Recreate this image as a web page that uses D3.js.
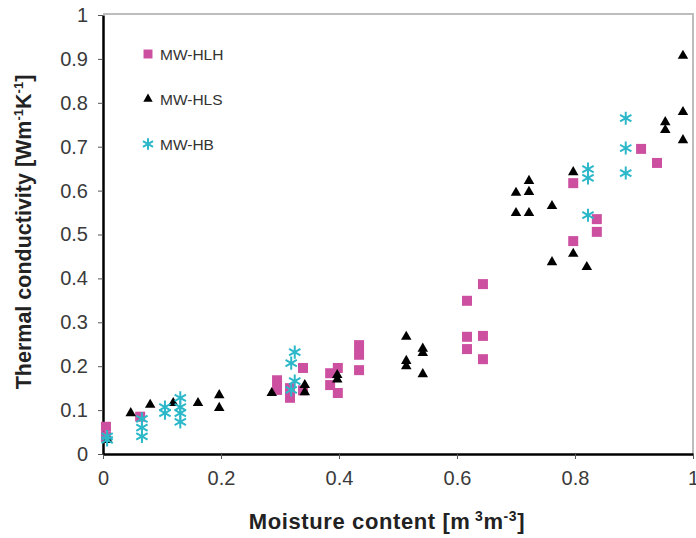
<!DOCTYPE html>
<html>
<head>
<meta charset="utf-8">
<script src="https://cdn.jsdelivr.net/npm/d3@7"></script>
<style>
    body { margin: 0; background: #fff; }
    text { font-family: "Liberation Sans", Arial, sans-serif; }
</style>
</head>
<body>
<svg width="696" height="538"></svg>
<script>
'use strict';

// MW-HLH (squares)
let hlhX = [0.005, 0.005, 0.063, 0.295, 0.295, 0.317, 0.317, 0.339, 0.339, 0.385, 0.385, 0.398, 0.398,
    0.434, 0.434, 0.434, 0.617, 0.617, 0.617, 0.644, 0.644, 0.644, 0.797, 0.797, 0.837, 0.837, 0.912, 0.939];
let hlhY = [0.062, 0.039, 0.085, 0.168, 0.146, 0.150, 0.128, 0.196, 0.145, 0.184, 0.157, 0.196, 0.139,
    0.248, 0.226, 0.191, 0.349, 0.267, 0.239, 0.387, 0.269, 0.216, 0.617, 0.485, 0.535, 0.506, 0.695, 0.663];

// MW-HLS (triangles)
let hlsX = [0.008, 0.047, 0.080, 0.119, 0.161, 0.197, 0.197, 0.286, 0.342, 0.342, 0.397, 0.397,
    0.514, 0.514, 0.514, 0.542, 0.542, 0.542, 0.700, 0.722, 0.722, 0.700, 0.722, 0.761, 0.797,
    0.761, 0.797, 0.820, 0.983, 0.983, 0.953, 0.953, 0.983];
let hlsY = [0.032, 0.093, 0.112, 0.116, 0.116, 0.134, 0.105, 0.139, 0.157, 0.141, 0.180, 0.170,
    0.267, 0.212, 0.200, 0.240, 0.230, 0.182, 0.595, 0.622, 0.597, 0.549, 0.549, 0.565, 0.642,
    0.437, 0.456, 0.426, 0.907, 0.779, 0.756, 0.738, 0.715];

// MW-HB (stars)
let hbX = [0.007, 0.007, 0.066, 0.066, 0.066, 0.105, 0.105, 0.131, 0.131, 0.131, 0.131,
    0.325, 0.319, 0.325, 0.319, 0.822, 0.822, 0.822, 0.886, 0.886, 0.886];
let hbY = [0.032, 0.040, 0.080, 0.060, 0.040, 0.107, 0.093, 0.128, 0.107, 0.093, 0.073,
    0.232, 0.207, 0.166, 0.146, 0.649, 0.629, 0.544, 0.765, 0.697, 0.640];

let xTicks = [0, 0.2, 0.4, 0.6, 0.8, 1];
let yTicks = [0, 0.1, 0.2, 0.3, 0.4, 0.5, 0.6, 0.7, 0.8, 0.9, 1];

let series = [
    {name: "MW-HLH", xs: hlhX, ys: hlhY, type: d3.symbolSquare, size: 100, color: "#cc4fa0", stroke: false},
    {name: "MW-HLS", xs: hlsX, ys: hlsY, type: d3.symbolTriangle, size: 48, color: "#000", stroke: false},
    {name: "MW-HB", xs: hbX, ys: hbY, type: d3.symbolAsterisk, size: 120, color: "#2cb8c9", stroke: true}
];

let svg = d3.select("svg");
let x = d3.scaleLinear().domain([0, 1]).range([103, 693]);
let y = d3.scaleLinear().domain([0, 1]).range([454, 15]);

// light frame top / right
svg.append("line").attr("x1", 103).attr("x2", 694).attr("y1", 14).attr("y2", 14)
    .attr("stroke", "#bdbdbd").attr("stroke-width", 2);
svg.append("line").attr("x1", 693).attr("x2", 693).attr("y1", 14).attr("y2", 454)
    .attr("stroke", "#bdbdbd").attr("stroke-width", 2);

let xAxis = svg.append("g").attr("transform", "translate(0,454)")
    .call(d3.axisBottom(x).tickValues(xTicks).tickFormat(d3.format("")).tickSize(5).tickSizeOuter(0));
let yAxis = svg.append("g").attr("transform", "translate(103,0)")
    .call(d3.axisLeft(y).tickValues(yTicks).tickFormat(d3.format("")).tickSize(5).tickSizeOuter(0));

[xAxis, yAxis].forEach(function (a) {
    a.select(".domain").attr("stroke", "#000").attr("stroke-width", 2.5);
    a.selectAll(".tick line").attr("stroke", "#555");
    a.selectAll(".tick text").attr("fill", "#3a3a3a").style("font-size", "20px")
        .style("font-family", "'Liberation Sans', Arial, sans-serif");
});
xAxis.selectAll(".tick text").attr("y", 17);
yAxis.selectAll(".tick text").attr("x", -15);

// points
series.forEach(function (s) {
    let sym = d3.symbol().type(s.type).size(s.size);
    svg.append("g").selectAll("path")
        .data(s.xs.map(function (v, i) { return [v, s.ys[i]]; }))
        .enter().append("path")
        .attr("d", sym)
        .attr("transform", function (d) {
            return "translate(" + x(d[0]) + "," + y(d[1]) + ")";
        })
        .attr("fill", s.stroke ? "none" : s.color)
        .attr("stroke", s.stroke ? s.color : "none")
        .attr("stroke-width", 2);
});

// legend
let legend = svg.append("g").selectAll("g").data(series).enter().append("g")
    .attr("transform", function (d, i) { return "translate(148," + (54 + i * 45) + ")"; });
legend.append("path")
    .attr("d", function (d) { return d3.symbol().type(d.type).size(d.size * 0.8)(); })
    .attr("fill", function (d) { return d.stroke ? "none" : d.color; })
    .attr("stroke", function (d) { return d.stroke ? d.color : "none"; })
    .attr("stroke-width", 2);
legend.append("text").attr("x", 12).attr("y", 6)
    .style("font-size", "15.5px").attr("fill", "#333")
    .text(function (d) { return d.name; });

// axis titles
let xt = svg.append("text").attr("x", 387).attr("y", 529).attr("text-anchor", "middle")
    .style("font-size", "22px").style("font-weight", "bold").attr("fill", "#222")
    .style("letter-spacing", "0.6px");
xt.append("tspan").text("Moisture content [m");
xt.append("tspan").attr("dy", -8).style("font-size", "14px").text(" 3");
xt.append("tspan").attr("dy", 8).text("m");
xt.append("tspan").attr("dy", -8).style("font-size", "14px").text("-3");
xt.append("tspan").attr("dy", 8).text("]");

let yt = svg.append("text").attr("transform", "translate(31,232) rotate(-90)").attr("text-anchor", "middle")
    .style("font-size", "21.5px").style("font-weight", "bold").attr("fill", "#222");
yt.append("tspan").text("Thermal conductivity [Wm");
yt.append("tspan").attr("dy", -8).style("font-size", "13px").text("-1");
yt.append("tspan").attr("dy", 8).text("K");
yt.append("tspan").attr("dy", -8).style("font-size", "13px").text("-1");
yt.append("tspan").attr("dy", 8).text("]");
</script>
</body>
</html>
